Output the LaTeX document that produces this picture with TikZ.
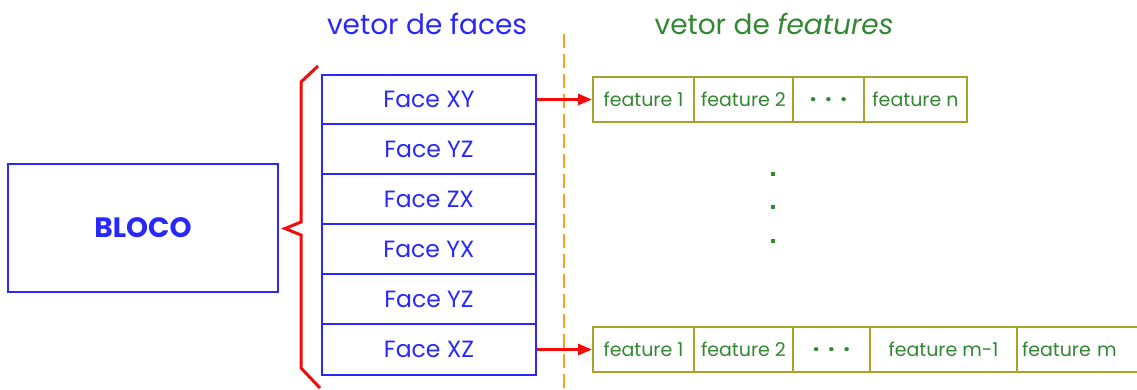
\documentclass[tikz,border=0pt]{standalone}
\usepackage{fontspec}
\setmainfont{Poppins}
\usetikzlibrary{arrows.meta}
\definecolor{fblue}{RGB}{40,40,250}
\definecolor{fgreen}{RGB}{50,135,50}
\definecolor{folive}{RGB}{165,165,40}
\definecolor{forange}{RGB}{250,160,30}
\definecolor{fred}{RGB}{245,10,10}
\newcommand{\threedots}{{\bfseries\fontsize{22}{24}\selectfont .\hspace{9pt}.\hspace{9pt}.}}
\tikzset{
  facebox/.style={draw=fblue, line width=2pt, text=fblue, minimum width=214pt, inner sep=0pt, font=\fontsize{23.5}{26}\selectfont},
  featbox/.style={draw=folive, line width=2pt, text=fgreen, minimum height=45pt, inner sep=0pt, font=\fontsize{19}{22}\selectfont},
  featarrow/.style={draw=fred, line width=3pt, -{Triangle[length=14pt,width=11pt]}},
  vdot/.style={fill=fgreen, minimum size=4pt, inner sep=0pt},
  title/.style={font=\fontsize{28}{32}\selectfont},
}
\begin{document}
\begin{tikzpicture}[x=1pt,y=-1pt]
\useasboundingbox (0,0) rectangle (1137,389);
\clip (0,0) rectangle (1137,389);
% titles
\node[title, text=fblue] (t1) at (427,24) {vetor de faces};
\node[title, text=fgreen] (t2) at (774,24) {vetor de \textit{features}};
% dashed separator
\coordinate (dtop) at (564,34);
\coordinate (dbot) at (564,392);
\draw[forange, line width=1.6pt, dash pattern=on 14pt off 6pt] (dtop) -- (dbot);
% bloco
\node[draw=fblue, line width=2pt, minimum width=270pt, minimum height=128pt, text=fblue, font=\fontsize{28}{32}\selectfont\bfseries] (bloco) at (143,227.5) {BLOCO};
% faces
\node[facebox, minimum height=49pt] (f1) at (429,99.5) {Face XY};
\node[facebox, minimum height=50pt] (f2) at (429,149) {Face YZ};
\node[facebox, minimum height=50pt] (f3) at (429,199) {Face ZX};
\node[facebox, minimum height=50pt] (f4) at (429,249) {Face YX};
\node[facebox, minimum height=50pt] (f5) at (429,299) {Face YZ};
\node[facebox, minimum height=51pt] (f6) at (429,349.5) {Face XZ};
% brace
\draw[fred, line width=3pt, line join=miter] (318,66) -- (301,82) -- (301,222) -- (285,228.5) -- (301,235) -- (301,368) -- (320,388);
% feature row 1
\node[featbox, minimum width=101pt] (a1) at (643.5,99.5) {feature 1};
\node[featbox, minimum width=99pt] (a2) at (743.5,99.5) {feature 2};
\node[featbox, minimum width=71pt] (a3) at (828.5,99.5) {\threedots};
\node[featbox, minimum width=103pt] (a4) at (915.5,99.5) {feature n};
% feature row 2
\node[featbox, minimum width=101pt] (b1) at (643.5,349.5) {feature 1};
\node[featbox, minimum width=99pt] (b2) at (743.5,349.5) {feature 2};
\node[featbox, minimum width=77pt] (b3) at (831.5,349.5) {\threedots};
\node[featbox, minimum width=147pt] (b4) at (943.5,349.5) {feature m-1};
\node[featbox, minimum width=140pt, text width=130pt, align=left] (b5) at (1087,349.5) {feature m};
% arrows
\draw[featarrow] (f1.east) -- (a1.west);
\draw[featarrow] (f6.east) -- (b1.west);
% vertical dots
\node[vdot] (d1) at (773,174) {};
\node[vdot] (d2) at (773,207) {};
\node[vdot] (d3) at (773,241) {};
\end{tikzpicture}
\end{document}
